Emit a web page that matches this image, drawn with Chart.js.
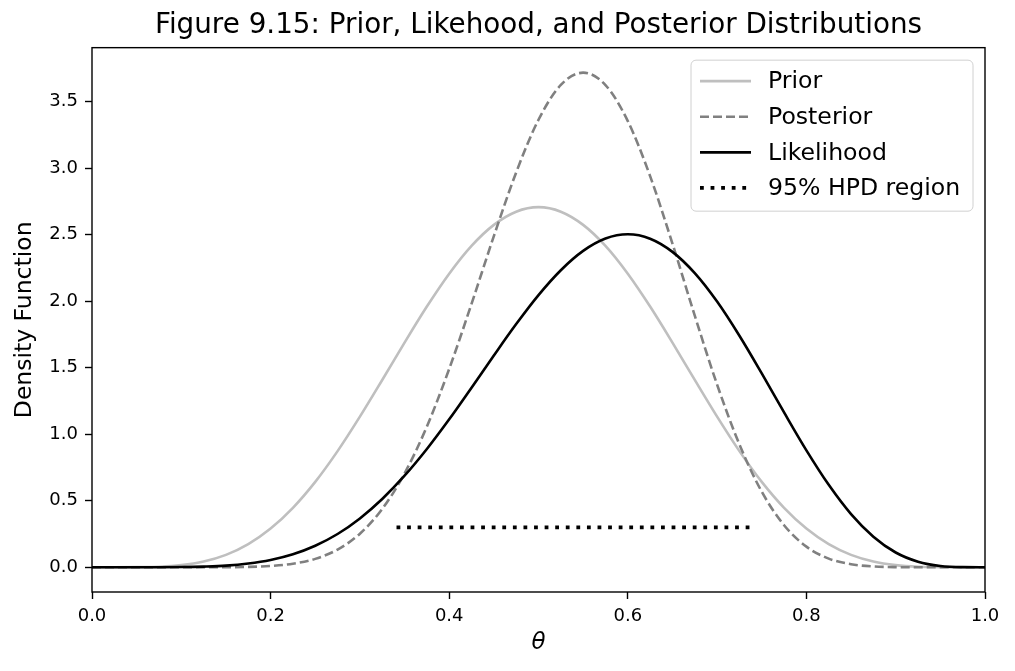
<!DOCTYPE html>
<html>
<head>
<meta charset="utf-8">
<script src="https://cdn.jsdelivr.net/npm/chart.js@4.4.1/dist/chart.umd.min.js"></script>
<style>
  html, body { margin: 0; padding: 0; background: #fff; }
  #wrap { width: 1015px; height: 671px; }
</style>
</head>
<body>
<div id="wrap"><canvas id="densityChart" width="1015" height="671"></canvas></div>
<script>
// values, theta step 0.025
const theta = [0, 0.025, 0.05, 0.075, 0.1, 0.125, 0.15, 0.175, 0.2, 0.225, 0.25, 0.275, 0.3, 0.325, 0.35, 0.375, 0.4, 0.425, 0.45, 0.475,
  0.5, 0.525, 0.55, 0.575, 0.6, 0.625, 0.65, 0.675, 0.7, 0.725, 0.75, 0.775, 0.8, 0.825, 0.85, 0.875, 0.9, 0.925, 0.95, 0.975, 1];

const prior = [0, 0, 0.001, 0.004, 0.016, 0.043, 0.093, 0.174, 0.291, 0.447, 0.642, 0.873, 1.132, 1.408, 1.689, 1.960, 2.207, 2.416, 2.574, 2.673,
  2.707, 2.673, 2.574, 2.416, 2.207, 1.960, 1.689, 1.408, 1.132, 0.873, 0.642, 0.447, 0.291, 0.174, 0.093, 0.043, 0.016, 0.004, 0.001, 0, 0];

const posterior = [0, 0, 0, 0, 0, 0.0001, 0.0007, 0.003, 0.010, 0.027, 0.063, 0.133, 0.252, 0.438, 0.705, 1.058, 1.491, 1.980, 2.489, 2.968,
  3.364, 3.626, 3.718, 3.625, 3.354, 2.940, 2.433, 1.891, 1.373, 0.923, 0.568, 0.316, 0.155, 0.065, 0.023, 0.006, 0.001, 0.0001, 0, 0, 0];

const likelihood = [0, 0, 0.0001, 0.0003, 0.0014, 0.005, 0.012, 0.028, 0.055, 0.098, 0.162, 0.250, 0.367, 0.513, 0.688, 0.889, 1.112, 1.350, 1.592, 1.828,
  2.046, 2.233, 2.378, 2.471, 2.503, 2.470, 2.371, 2.211, 1.997, 1.740, 1.457, 1.164, 0.879, 0.620, 0.400, 0.230, 0.111, 0.042, 0.010, 0.001, 0];

const hpdX = [0.341, 0.737];
const hpdY = [0.3, 0.3];

const xTicks = [0, 0.2, 0.4, 0.6, 0.8, 1.0];
const yTicks = [0, 0.5, 1.0, 1.5, 2.0, 2.5, 3.0, 3.5];
const legendLabels = ['Prior', 'Posterior', 'Likelihood', '95% HPD region'];

const pts = (xs, ys) => xs.map((x, i) => ({ x: x, y: ys[i] }));

Chart.defaults.font.family = "'DejaVu Sans', sans-serif";
Chart.defaults.color = '#000';

// spines + matplotlib-style legend box
const frameAndLegend = {
  id: 'frameAndLegend',
  afterDraw(chart) {
    const { ctx, chartArea: a } = chart;
    ctx.save();
    ctx.strokeStyle = '#000';
    ctx.lineWidth = 1.4;
    ctx.setLineDash([]);
    ctx.strokeRect(a.left, a.top, a.right - a.left, a.bottom - a.top);

    // legend box
    const w = 282, h = 151, r = 5;
    const bx = a.right - 12 - w, by = a.top + 12.5;
    ctx.beginPath();
    ctx.moveTo(bx + r, by);
    ctx.arcTo(bx + w, by, bx + w, by + h, r);
    ctx.arcTo(bx + w, by + h, bx, by + h, r);
    ctx.arcTo(bx, by + h, bx, by, r);
    ctx.arcTo(bx, by, bx + w, by, r);
    ctx.closePath();
    ctx.fillStyle = 'rgba(255,255,255,0.8)';
    ctx.fill();
    ctx.strokeStyle = '#d0d0d0';
    ctx.lineWidth = 1;
    ctx.stroke();

    ctx.font = "23.6px 'DejaVu Sans'";
    ctx.textBaseline = 'middle';
    ctx.textAlign = 'left';
    legendLabels.forEach((label, i) => {
      const ds = chart.data.datasets[i];
      const y = by + 21 + i * 35.6;
      ctx.beginPath();
      ctx.strokeStyle = ds.borderColor;
      ctx.lineWidth = ds.borderWidth;
      ctx.lineCap = 'butt';
      ctx.setLineDash(ds.borderDash || []);
      ctx.moveTo(bx + 9, y);
      ctx.lineTo(bx + 60, y);
      ctx.stroke();
      ctx.setLineDash([]);
      ctx.fillStyle = '#000';
      ctx.fillText(label, bx + 77, y + 1);
    });
    ctx.restore();
  }
};

const tickFont = { size: 18 };
const ctx = document.getElementById('densityChart').getContext('2d');
new Chart(ctx, {
  type: 'line',
  data: {
    datasets: [
      { label: 'Prior', data: pts(theta, prior), borderColor: '#bfbfbf', borderWidth: 2.6, order: 4 },
      { label: 'Posterior', data: pts(theta, posterior), borderColor: '#808080', borderWidth: 2.6, borderDash: [9, 4], order: 3 },
      { label: 'Likelihood', data: pts(theta, likelihood), borderColor: '#000000', borderWidth: 2.6, order: 2 },
      { label: '95% HPD region', data: pts(hpdX, hpdY), borderColor: '#000000', borderWidth: 3.8, borderDash: [3.8, 6.78], order: 1, cubicInterpolationMode: 'default', tension: 0 }
    ]
  },
  options: {
    responsive: false,
    animation: false,
    layout: { padding: { top: 0, right: 30, bottom: 0, left: 0 } },
    elements: {
      point: { radius: 0, hoverRadius: 0 },
      line: { cubicInterpolationMode: 'monotone', borderCapStyle: 'butt', fill: false }
    },
    plugins: {
      legend: { display: false },
      tooltip: { enabled: false },
      title: {
        display: true,
        text: 'Figure 9.15: Prior, Likehood, and Posterior Distributions',
        fullSize: false,
        color: '#000',
        font: { size: 27.8, weight: 'normal' },
        padding: { top: 9, bottom: 5.3 }
      }
    },
    scales: {
      x: {
        type: 'linear',
        min: 0,
        max: 1,
        afterBuildTicks: s => { s.ticks = xTicks.map(v => ({ value: v })); },
        afterFit: s => { s.height = 79; },
        ticks: { font: tickFont, padding: 7, maxRotation: 0, callback: v => v.toFixed(1) },
        grid: { drawOnChartArea: false, tickLength: 7, tickColor: '#000', tickWidth: 1.4 },
        border: { display: false },
        title: { display: true, text: 'θ', font: { size: 23, style: 'italic' }, padding: { top: 0, bottom: 14 } }
      },
      y: {
        min: -0.186,
        max: 3.906,
        afterBuildTicks: s => { s.ticks = yTicks.map(v => ({ value: v })); },
        afterFit: s => { s.width = 92; },
        ticks: { font: tickFont, padding: 7, callback: v => v.toFixed(1) },
        grid: { drawOnChartArea: false, tickLength: 7, tickColor: '#000', tickWidth: 1.4 },
        border: { display: false },
        title: { display: true, text: 'Density Function', font: { size: 23.5 }, padding: { top: 10.5, bottom: 0 } }
      }
    }
  },
  plugins: [frameAndLegend]
});
</script>
</body>
</html>
